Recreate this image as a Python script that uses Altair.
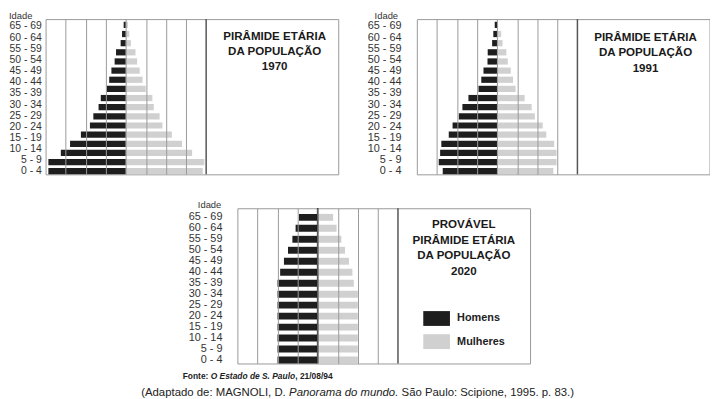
import altair as alt
import pandas as pd

# ---------------- data ----------------
age_labels = ["65 - 69", "60 - 64", "55 - 59", "50 - 54", "45 - 49", "40 - 44", "35 - 39",
              "30 - 34", "25 - 29", "20 - 24", "15 - 19", "10 - 14", "5 - 9", "0 - 4"]
axis_title = "Idade"
sexes = ["Homens", "Mulheres"]
sex_colors = ["#1e1e1e", "#d0d0d0"]

# bar lengths in grid units, top bar first
men_1970 = [0.11, 0.19, 0.26, 0.49, 0.56, 0.72, 0.83, 0.95, 1.25, 1.36, 1.62, 1.79, 2.24, 2.78, 3.24, 3.86, 3.86]
women_1970 = [0.10, 0.17, 0.25, 0.48, 0.56, 0.69, 0.83, 0.99, 1.32, 1.39, 1.68, 1.82, 2.29, 2.80, 3.30, 3.91, 3.83]
men_1991 = [0.12, 0.19, 0.25, 0.47, 0.48, 0.68, 0.79, 0.93, 1.43, 1.73, 1.91, 2.22, 2.41, 2.78, 2.84, 2.91, 2.71]
women_1991 = [0.05, 0.20, 0.27, 0.46, 0.53, 0.68, 0.79, 0.92, 1.37, 1.72, 1.88, 2.27, 2.45, 2.84, 2.96, 2.96, 2.80]
men_2020 = [0.93, 1.10, 1.26, 1.48, 1.68, 1.87, 2.00, 2.00, 2.00, 2.00, 2.00, 2.00, 2.00, 2.00]
women_2020 = [0.77, 0.94, 1.18, 1.36, 1.56, 1.73, 1.80, 2.00, 2.00, 2.00, 2.00, 2.00, 2.00, 2.00]

title_1970 = ["PIRÂMIDE ETÁRIA", "DA POPULAÇÃO", "1970"]
title_1991 = ["PIRÂMIDE ETÁRIA", "DA POPULAÇÃO", "1991"]
title_2020 = ["PROVÁVEL", "PIRÂMIDE ETÁRIA", "DA POPULAÇÃO", "2020"]

grid_values = [-3, -2, -1, 0, 1, 2, 3]
edge_value = [4]
center_value = [0]

fonte_parts = ["Fonte:", "O Estado de S. Paulo", ", 21/08/94"]
caption_parts = ["(Adaptado de: MAGNOLI, D.", "Panorama do mundo.", "São Paulo: Scipione, 1995. p. 83.)"]

FONT = "Liberation Sans, Arial, sans-serif"
X_DOMAIN = [-4, 10.58]
W, H = 296, 157


def bars_frame(men, women):
    rows = []
    for i, (m, w) in enumerate(zip(men, women)):
        rows.append({"row": i, "sex": sexes[0], "value": -m, "base": 0})
        rows.append({"row": i, "sex": sexes[1], "value": w, "base": 0})
    return pd.DataFrame(rows)


def text_piece(txt, x, y, size, weight, style, baseline="middle", color="#222"):
    return alt.Chart(pd.DataFrame({"t": [txt]})).mark_text(
        font=FONT, fontSize=size, fontWeight=weight, fontStyle=style, color=color,
        align="left", baseline=baseline).encode(text="t:N", x=alt.value(x), y=alt.value(y))


def panel(men, women, title, band, lab_scale, label_size, label_pad, idade_xy,
          title_xy, line_h, legend, center_rule, extras=None):
    xscale = alt.Scale(domain=X_DOMAIN, nice=False, zero=False)
    bars = alt.Chart(bars_frame(men, women)).mark_bar().encode(
        x=alt.X("value:Q", scale=xscale,
                axis=alt.Axis(values=grid_values, grid=True, gridColor="#9a9a9a", gridWidth=1,
                              labels=False, ticks=False, domain=False, title=None, zindex=1)),
        x2="base:Q",
        y=alt.Y("row:O", axis=None,
                scale=alt.Scale(paddingInner=band[0], paddingOuter=band[1], align=1)),
        color=alt.Color("sex:N", scale=alt.Scale(domain=sexes, range=sex_colors), legend=legend),
    )
    edge = alt.Chart(pd.DataFrame({"x": edge_value})).mark_rule(
        color="#555", strokeWidth=1.5).encode(x=alt.X("x:Q", scale=xscale))
    labels = alt.Chart(pd.DataFrame({"age": age_labels})).mark_point(opacity=0).encode(
        y=alt.Y("age:N", sort=age_labels,
                scale=alt.Scale(type="point", padding=lab_scale[0], align=lab_scale[1]),
                axis=alt.Axis(title=None, labelFont=FONT, labelFontSize=label_size,
                              labelColor="#333", labelPadding=label_pad, ticks=False,
                              tickSize=0, domain=False, grid=False)))
    idade = text_piece(axis_title, idade_xy[0], idade_xy[1], 9.5, "normal", "normal",
                       baseline="top", color="#333")
    ttl = alt.Chart(pd.DataFrame({"t": ["\n".join(title)]})).mark_text(
        font=FONT, fontSize=11.7, fontWeight="bold", color="#1a1a1a", lineBreak="\n",
        lineHeight=line_h, align="center", baseline="top").encode(
        text="t:N", x=alt.value(title_xy[0]), y=alt.value(title_xy[1]))
    layers = [bars, edge]
    if center_rule:
        layers.append(alt.Chart(pd.DataFrame({"x": center_value})).mark_rule(
            color="#111", strokeWidth=1.6).encode(x=alt.X("x:Q", scale=xscale)))
    layers += [labels, idade, ttl]
    if extras:
        layers += extras
    return alt.layer(*layers).resolve_scale(y="independent").properties(
        width=W, height=H, view=alt.ViewBackground(stroke="#999", strokeWidth=1))


# source line and caption (relative to bottom panel origin)
fx, fy, fs = -55.3, 170, 8.5
cx, cy, cs = -97.3, 186.5, 11.5
extras = [
    text_piece(fonte_parts[0], fx, fy, fs, "bold", "normal"),
    text_piece(fonte_parts[1], fx + 3.333 * fs, fy, fs, "bold", "italic"),
    text_piece(fonte_parts[2], fx + (3.333 + 10.059) * fs, fy, fs, "bold", "normal"),
    text_piece(caption_parts[0], cx, cy, cs, "normal", "normal"),
    text_piece(caption_parts[1], cx + 13.006 * cs, cy, cs, "normal", "italic"),
    text_piece(caption_parts[2], cx + (13.006 + 9.616 + 0.278) * cs, cy, cs, "normal", "normal"),
]

legend = alt.Legend(orient="none", legendX=191.5, legendY=101.5, title=None, padding=0,
                    symbolType="M-1.35,-0.75H1.35V0.75H-1.35Z", symbolSize=400,
                    symbolStrokeWidth=0, symbolOpacity=1, labelFont=FONT, labelFontSize=11,
                    labelFontWeight="bold", labelColor="#222", labelOffset=10.7, rowPadding=5.4)

p1 = panel(men_1970, women_1970, title_1970, (0.32, 0.145), (0.46, 0.67), 10.5, 4.3,
           (-37, -8.2), (231.7, 12.4), 15, None, False)
p2 = panel(men_1991, women_1991, title_1991, (0.32, 0.145), (0.46, 0.67), 11, 16,
           (-42.7, -8.2), (231.3, 13.3), 15.5, None, False)
p3 = panel(men_2020, women_2020, title_2020, (0.37, 0.256), (0.57, 0.65), 11, 15.6,
           (-40, -8.2), (229, 10.8), 16, legend, True, extras)

spacer = alt.Chart(pd.DataFrame({"a": [0]})).mark_point(opacity=0).properties(
    width=95, height=H, view=alt.ViewBackground(stroke="transparent"))

top = alt.hconcat(p1, p2, spacing=27.5).resolve_scale(color="independent")
bottom = alt.hconcat(spacer, p3, spacing=0).resolve_scale(color="independent")
chart = alt.vconcat(top, bottom, spacing=22.3).resolve_scale(
    color="independent").properties(padding={"left": 0, "top": 0, "right": 0, "bottom": 0}
    ).configure(font=FONT)

chart.save("out.html", embed_options={"renderer": "svg", "actions": False})
